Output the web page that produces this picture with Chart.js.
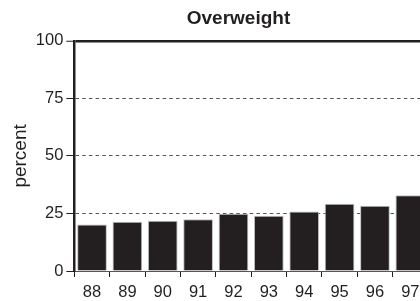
<!DOCTYPE html>
<html>
<head>
<meta charset="utf-8">
<script src="https://cdn.jsdelivr.net/npm/chart.js@4/dist/chart.umd.min.js"></script>
<style>
    html, body { margin: 0; padding: 0; background: #fff; overflow: hidden; }
    #wrap { width: 420px; height: 301px; overflow: hidden; }
</style>
</head>
<body>
<div id="wrap"><canvas id="chart" width="428" height="301"></canvas></div>
<script>
// Overweight, percent by year

const years = ['88', '89', '90', '91', '92', '93', '94', '95', '96', '97'];
const overweight = [20.2, 21.4, 21.8, 22.5, 24.9, 24.0, 25.9, 29.2, 28.3, 32.9];
const yTicks = [0, 25, 50, 75, 100];

const ink = '#231f20';
const fontFamily = '"Liberation Sans", Arial, Helvetica, sans-serif';

// the figure is cropped on the right, so centre the title on the full figure width
const shiftTitle = {
    id: 'shiftTitle',
    afterLayout(chart) {
        chart.titleBlock.right += 49;
    }
};

const ctx = document.getElementById('chart').getContext('2d');
new Chart(ctx, {
    type: 'bar',
    data: {
        labels: years,
        datasets: [{
            label: 'Overweight',
            data: overweight,
            backgroundColor: ink,
            borderColor: '#bdbdbd',
            borderWidth: 1,
            barPercentage: 0.84,
            categoryPercentage: 1
        }]
    },
    options: {
        responsive: false,
        animation: false,
        layout: { padding: { left: 0, right: 0, top: 0, bottom: -7.5 } },
        plugins: {
            legend: { display: false },
            tooltip: { enabled: false },
            title: {
                display: true,
                text: 'Overweight',
                color: ink,
                font: { family: fontFamily, size: 19, weight: 'bold' },
                padding: { top: 7, bottom: 11 }
            }
        },
        scales: {
            x: {
                grid: {
                    offset: true,
                    drawOnChartArea: false,
                    tickLength: 6,
                    tickColor: ink,
                    tickWidth: 1
                },
                border: { display: true, color: '#555', width: 1 },
                ticks: {
                    color: ink,
                    padding: 7.5,
                    maxRotation: 0,
                    font: { family: fontFamily, size: 16.5, lineHeight: 1 }
                }
            },
            y: {
                min: 0,
                max: 100,
                afterBuildTicks: (scale) => {
                    scale.ticks = yTicks.map(v => ({ value: v }));
                },
                grid: {
                    color: (c) => (c.tick && (c.tick.value === 100 || c.tick.value === 0)) ? ink : '#555',
                    lineWidth: (c) => (c.tick && c.tick.value === 100) ? 2.5 : 1,
                    tickLength: 8,
                    tickColor: ink,
                    tickWidth: 1
                },
                border: {
                    display: true,
                    color: ink,
                    width: 2.5,
                    dash: (c) => (c.type === 'tick' && c.tick.value > 0 && c.tick.value < 100) ? [3.5, 3.2] : []
                },
                ticks: {
                    color: ink,
                    padding: 3,
                    font: { family: fontFamily, size: 16.5 }
                },
                title: {
                    display: true,
                    text: 'percent',
                    color: ink,
                    font: { family: fontFamily, size: 19 },
                    padding: { top: 9, bottom: 1 }
                }
            }
        }
    },
    plugins: [shiftTitle]
});
</script>
</body>
</html>
